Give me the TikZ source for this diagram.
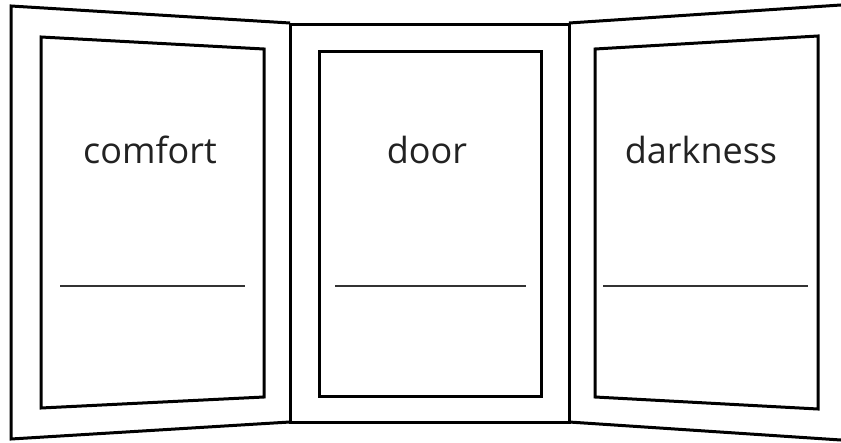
\documentclass[tikz,border=0pt]{standalone}
\usepackage{fontspec}
\setmainfont{Open Sans}
\usepackage{tikz}
\usetikzlibrary{positioning}

\definecolor{inkgray}{HTML}{333333}
\definecolor{textgray}{HTML}{222222}

\tikzset{
  frame/.style={draw=black, line width=3pt, line join=miter},
  writeline/.style={draw=inkgray, line width=2.2pt},
  word/.style={font=\fontsize{36}{40}\selectfont, text=textgray, anchor=base, inner sep=0pt}
}

\begin{document}
\begin{tikzpicture}[x=1pt, y=-1pt]
\useasboundingbox (0,0) rectangle (841,442);
\clip (0,0) rectangle (841,442);
% Left wing, outer frame
\draw[frame] (290,23) -- (11,6) -- (11,439) -- (290,422);
% Centre panel, outer frame
\draw[frame] (290,24) rectangle (569,422);
% Right wing, outer frame (runs off the page)
\draw[frame] (569,23) -- (856,4);
\draw[frame] (569,422) -- (856,441);
% Inner panels
\draw[frame] (41,37) -- (264,49) -- (264,397) -- (41,408) -- cycle;
\draw[frame] (319,51) rectangle (541,396);
\draw[frame] (595,49) -- (818,36) -- (818,409) -- (595,397) -- cycle;
% Words
\node[word] (comfort) at (150,163) {comfort};
\node[word] (door) at (427,163) {door};
\node[word] (darkness) at (701,163) {darkness};
% Lines to write on
\draw[writeline] (60,286) -- (245,286);
\draw[writeline] (335,286) -- (526,286);
\draw[writeline] (603,286) -- (808,286);
\end{tikzpicture}
\end{document}
